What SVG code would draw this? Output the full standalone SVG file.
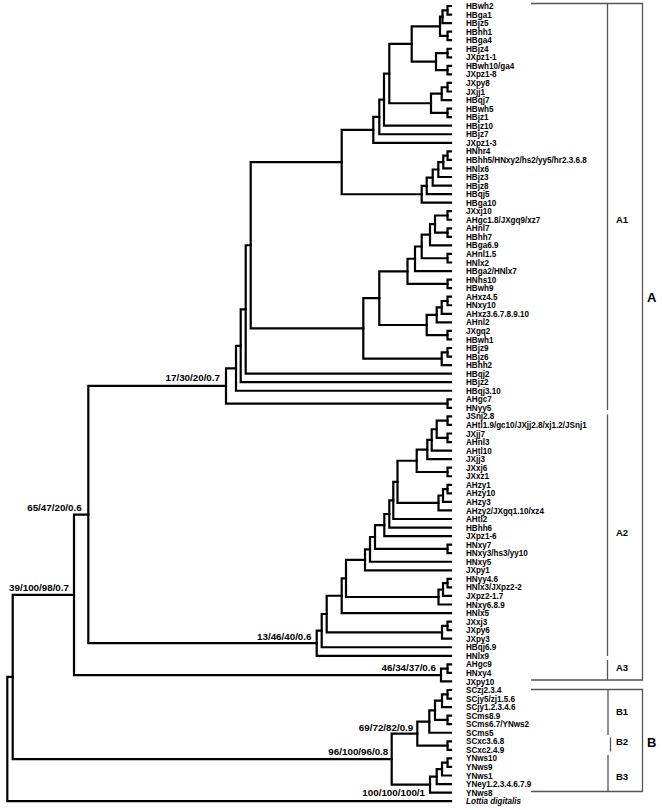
<svg xmlns="http://www.w3.org/2000/svg" width="662" height="810" viewBox="0 0 662 810">
<style>
.br{fill:none;stroke:#000;stroke-width:2.2;stroke-linejoin:miter;stroke-linecap:square}
.lf{font-family:"Liberation Sans",Arial,sans-serif;font-weight:bold;font-size:8.4px;fill:#000}
.it{font-style:italic}
.bs{font-family:"Liberation Sans",Arial,sans-serif;font-weight:bold;font-size:9.8px;fill:#000;text-anchor:end}
.cl{fill:none;stroke:#555;stroke-width:1.3}
.sub{font-family:"Liberation Sans",Arial,sans-serif;font-weight:bold;font-size:9.5px;fill:#000}
.grp{font-family:"Liberation Sans",Arial,sans-serif;font-weight:bold;font-size:13px;fill:#000}
</style>
<rect width="662" height="810" fill="#fff"/>
<g id="connectors" class="br">
<path d="M451 6H447.5V14.55H451"/>
<path d="M447.5 10.28H442.5V23.1H451"/>
<path d="M451 31.65H447.5V40.2H451"/>
<path d="M442.5 16.69H440V35.93H447.5"/>
<path d="M451 48.75H447.5V57.3H451"/>
<path d="M451 65.85H447.5V74.4H451"/>
<path d="M447.5 53.03H436V70.13H447.5"/>
<path d="M440 26.31H411.7V61.58H436"/>
<path d="M451 82.95H447.5V91.5H451"/>
<path d="M447.5 87.23H441.7V100.05H451"/>
<path d="M451 108.6H447.5V117.15H451"/>
<path d="M441.7 93.64H431V112.88H447.5"/>
<path d="M411.7 43.95H389.3V103.26H431"/>
<path d="M389.3 73.6H384V125.7H451"/>
<path d="M384 99.65H379.3V134.25H451"/>
<path d="M379.3 116.95H373.3V142.8H451"/>
<path d="M451 151.35H447.5V159.9H451"/>
<path d="M447.5 155.63H443.3V168.45H451"/>
<path d="M443.3 162.04H438.3V177H451"/>
<path d="M438.3 169.52H432.7V185.55H451"/>
<path d="M432.7 177.54H426.7V194.1H451"/>
<path d="M426.7 185.82H421.7V202.65H451"/>
<path d="M373.3 129.88H341.7V194.24H421.7"/>
<path d="M451 211.2H447.5V219.75H451"/>
<path d="M451 228.3H447.5V236.85H451"/>
<path d="M447.5 215.48H435V232.58H447.5"/>
<path d="M435 224.03H430V245.4H451"/>
<path d="M451 253.95H447.5V262.5H451"/>
<path d="M430 234.72H421.7V258.23H447.5"/>
<path d="M421.7 246.48H415V271.05H451"/>
<path d="M451 279.6H447.5V288.15H451"/>
<path d="M415 258.76H407.5V283.88H447.5"/>
<path d="M451 296.7H447.5V305.25H451"/>
<path d="M447.5 300.98H441.7V313.8H451"/>
<path d="M441.7 307.39H436.7V322.35H451"/>
<path d="M451 330.9H447.5V339.45H451"/>
<path d="M436.7 314.87H426.7V335.18H447.5"/>
<path d="M407.5 271.32H379.3V325.02H426.7"/>
<path d="M451 348H447.5V356.55H451"/>
<path d="M447.5 352.28H441.7V365.1H451"/>
<path d="M379.3 298.17H363.3V358.69H441.7"/>
<path d="M341.7 162.06H250.7V328.43H363.3"/>
<path d="M250.7 245.25H245.7V373.65H451"/>
<path d="M245.7 309.45H240.7V382.2H451"/>
<path d="M240.7 345.83H236V390.75H451"/>
<path d="M451 399.3H447.5V407.85H451"/>
<path d="M236 368.29H226V403.58H447.5"/>
<path d="M451 416.4H447.5V424.95H451"/>
<path d="M451 433.5H447.5V442.05H451"/>
<path d="M447.5 420.68H436.7V437.78H447.5"/>
<path d="M436.7 429.23H431.7V450.6H451"/>
<path d="M431.7 439.91H427.3V459.15H451"/>
<path d="M451 467.7H447.5V476.25H451"/>
<path d="M427.3 449.53H416.7V471.98H447.5"/>
<path d="M451 484.8H447.5V493.35H451"/>
<path d="M447.5 489.08H443V501.9H451"/>
<path d="M443 495.49H438.5V510.45H451"/>
<path d="M416.7 460.75H397.5V502.97H438.5"/>
<path d="M397.5 481.86H393.3V519H451"/>
<path d="M393.3 500.43H389.3V527.55H451"/>
<path d="M389.3 513.99H384.3V536.1H451"/>
<path d="M451 544.65H447.5V553.2H451"/>
<path d="M384.3 525.05H375V548.93H447.5"/>
<path d="M375 536.99H370V561.75H451"/>
<path d="M370 549.37H365V570.3H451"/>
<path d="M451 578.85H447.5V587.4H451"/>
<path d="M447.5 583.13H443V595.95H451"/>
<path d="M443 589.54H438.5V604.5H451"/>
<path d="M365 559.84H346V597.02H438.5"/>
<path d="M346 578.43H341.7V613.05H451"/>
<path d="M451 621.6H447.5V630.15H451"/>
<path d="M447.5 625.88H442V638.7H451"/>
<path d="M341.7 595.74H326.7V632.29H442"/>
<path d="M326.7 614.02H321.7V647.25H451"/>
<path d="M321.7 630.64H316.7V655.8H451"/>
<path d="M226 385.93H88.3V643.22H316.7"/>
<path d="M451 664.35H447.5V672.9H451"/>
<path d="M447.5 668.63H441V681.45H451"/>
<path d="M88.3 514.58H74V675.04H441"/>
<path d="M451 690H447.5V698.55H451"/>
<path d="M447.5 694.28H442V707.1H451"/>
<path d="M451 715.65H447.5V724.2H451"/>
<path d="M442 700.69H435V719.93H447.5"/>
<path d="M435 710.31H429.3V732.75H451"/>
<path d="M451 741.3H447.5V749.85H451"/>
<path d="M429.3 721.53H417.3V745.58H447.5"/>
<path d="M451 758.4H447.5V766.95H451"/>
<path d="M447.5 762.68H442V775.5H451"/>
<path d="M442 769.09H436.7V784.05H451"/>
<path d="M436.7 776.57H430V792.6H451"/>
<path d="M417.3 733.55H391.7V784.59H430"/>
<path d="M74 594.81H12.7V759.07H391.7"/>
<path d="M12.7 676.94H7.3V801.15H451"/>
</g>
<g id="support-values">
<text class="bs" x="220" y="380.5">17/30/20/0.7</text>
<text class="bs" x="81.7" y="511">65/47/20/0.6</text>
<text class="bs" x="69" y="590.5">39/100/98/0.7</text>
<text class="bs" x="311.5" y="640">13/46/40/0.6</text>
<text class="bs" x="436" y="671">46/34/37/0.6</text>
<text class="bs" x="413.3" y="731">69/72/82/0.9</text>
<text class="bs" x="388.3" y="755">96/100/96/0.8</text>
<text class="bs" x="425" y="795.5">100/100/100/1</text>
</g>
<g id="leaves" class="lf" transform="matrix(0.965 0 0 1 466 0)">
<g id="n01"><text y="9.1">HBwh2</text></g>
<g id="n02"><text y="17.65">HBga1</text></g>
<g id="n03"><text y="26.2">HBjz5</text></g>
<g id="n04"><text y="34.75">HBhh1</text></g>
<g id="n05"><text y="43.3">HBga4</text></g>
<g id="n06"><text y="51.85">HBjz4</text></g>
<g id="n07"><text y="60.4">JXpz1-1</text></g>
<g id="n08"><text y="68.95">HBwh10/ga4</text></g>
<g id="n09"><text y="77.5">JXpz1-8</text></g>
<g id="n10"><text y="86.05">JXpy8</text></g>
<g id="n11"><text y="94.6">JXjj1</text></g>
<g id="n12"><text y="103.15">HBqj7</text></g>
<g id="n13"><text y="111.7">HBwh5</text></g>
<g id="n14"><text y="120.25">HBjz1</text></g>
<g id="n15"><text y="128.8">HBjz10</text></g>
<g id="n16"><text y="137.35">HBjz7</text></g>
<g id="n17"><text y="145.9">JXpz1-3</text></g>
<g id="n18"><text y="154.45">HNhr4</text></g>
<g id="n19"><text y="163">HBhh5/HNxy2/hs2/yy5/hr2.3.6.8</text></g>
<g id="n20"><text y="171.55">HNlx6</text></g>
<g id="n21"><text y="180.1">HBjz3</text></g>
<g id="n22"><text y="188.65">HBjz8</text></g>
<g id="n23"><text y="197.2">HBqj5</text></g>
<g id="n24"><text y="205.75">HBga10</text></g>
<g id="n25"><text y="214.3">JXxj10</text></g>
<g id="n26"><text y="222.85">AHgc1.8/JXgq9/xz7</text></g>
<g id="n27"><text y="231.4">AHnl7</text></g>
<g id="n28"><text y="239.95">HBhh7</text></g>
<g id="n29"><text y="248.5">HBga6.9</text></g>
<g id="n30"><text y="257.05">AHnl1.5</text></g>
<g id="n31"><text y="265.6">HNlx2</text></g>
<g id="n32"><text y="274.15">HBga2/HNlx7</text></g>
<g id="n33"><text y="282.7">HNhs10</text></g>
<g id="n34"><text y="291.25">HBwh9</text></g>
<g id="n35"><text y="299.8">AHxz4.5</text></g>
<g id="n36"><text y="308.35">HNxy10</text></g>
<g id="n37"><text y="316.9">AHxz3.6.7.8.9.10</text></g>
<g id="n38"><text y="325.45">AHnl2</text></g>
<g id="n39"><text y="334">JXgq2</text></g>
<g id="n40"><text y="342.55">HBwh1</text></g>
<g id="n41"><text y="351.1">HBjz9</text></g>
<g id="n42"><text y="359.65">HBjz6</text></g>
<g id="n43"><text y="368.2">HBhh2</text></g>
<g id="n44"><text y="376.75">HBqj2</text></g>
<g id="n45"><text y="385.3">HBjz2</text></g>
<g id="n46"><text y="393.85">HBqj3.10</text></g>
<g id="n47"><text y="402.4">AHgc7</text></g>
<g id="n48"><text y="410.95">HNyy5</text></g>
<g id="n49"><text y="419.5">JSnj2.8</text></g>
<g id="n50"><text y="428.05">AHtl1.9/gc10/JXjj2.8/xj1.2/JSnj1</text></g>
<g id="n51"><text y="436.6">JXjj7</text></g>
<g id="n52"><text y="445.15">AHnl3</text></g>
<g id="n53"><text y="453.7">AHtl10</text></g>
<g id="n54"><text y="462.25">JXjj3</text></g>
<g id="n55"><text y="470.8">JXxj6</text></g>
<g id="n56"><text y="479.35">JXxz1</text></g>
<g id="n57"><text y="487.9">AHzy1</text></g>
<g id="n58"><text y="496.45">AHzy10</text></g>
<g id="n59"><text y="505">AHzy3</text></g>
<g id="n60"><text y="513.55">AHzy2/JXgq1.10/xz4</text></g>
<g id="n61"><text y="522.1">AHtl2</text></g>
<g id="n62"><text y="530.65">HBhh6</text></g>
<g id="n63"><text y="539.2">JXpz1-6</text></g>
<g id="n64"><text y="547.75">HNxy7</text></g>
<g id="n65"><text y="556.3">HNxy3/hs3/yy10</text></g>
<g id="n66"><text y="564.85">HNxy5</text></g>
<g id="n67"><text y="573.4">JXpy1</text></g>
<g id="n68"><text y="581.95">HNyy4.6</text></g>
<g id="n69"><text y="590.5">HNlx3/JXpz2-2</text></g>
<g id="n70"><text y="599.05">JXpz2-1.7</text></g>
<g id="n71"><text y="607.6">HNxy6.8.9</text></g>
<g id="n72"><text y="616.15">HNlx5</text></g>
<g id="n73"><text y="624.7">JXxj3</text></g>
<g id="n74"><text y="633.25">JXpy6</text></g>
<g id="n75"><text y="641.8">JXpy3</text></g>
<g id="n76"><text y="650.35">HBqj6.9</text></g>
<g id="n77"><text y="658.9">HNlx9</text></g>
<g id="n78"><text y="667.45">AHgc9</text></g>
<g id="n79"><text y="676">HNxy4</text></g>
<g id="n80"><text y="684.55">JXpy10</text></g>
<g id="n81"><text y="693.1">SCzj2.3.4</text></g>
<g id="n82"><text y="701.65">SCjy5/zj1.5.6</text></g>
<g id="n83"><text y="710.2">SCjy1.2.3.4.6</text></g>
<g id="n84"><text y="718.75">SCms8.9</text></g>
<g id="n85"><text y="727.3">SCms6.7/YNws2</text></g>
<g id="n86"><text y="735.85">SCms5</text></g>
<g id="n87"><text y="744.4">SCxc3.6.8</text></g>
<g id="n88"><text y="752.95">SCxc2.4.9</text></g>
<g id="n89"><text y="761.5">YNws10</text></g>
<g id="n90"><text y="770.05">YNws9</text></g>
<g id="n91"><text y="778.6">YNws1</text></g>
<g id="n92"><text y="787.15">YNey1.2.3.4.6.7.9</text></g>
<g id="n93"><text y="795.7">YNws8</text></g>
<g id="n94"><text class="it" y="804.25">Lottia digitalis</text></g>
</g>
<g id="clade-A">
<path class="cl" d="M531 3.5H642.5V680H531"/>
<path class="cl" d="M607.5 3.5V410M607.5 414.5V656M607.5 660V680"/>
<text class="sub" x="616" y="223.4">A1</text>
<text class="sub" x="616" y="536.4">A2</text>
<text class="sub" x="616" y="671.4">A3</text>
<text class="grp" x="647" y="302">A</text>
</g>
<g id="clade-B">
<path class="cl" d="M531 689.5H642.5V791.5H531"/>
<path class="cl" d="M608 689.5V735M610.5 737.5V751.5M608 755V791.5"/>
<text class="sub" x="616" y="715.4">B1</text>
<text class="sub" x="616" y="745.4">B2</text>
<text class="sub" x="616" y="780.4">B3</text>
<text class="grp" x="647" y="746.7">B</text>
</g>
</svg>
